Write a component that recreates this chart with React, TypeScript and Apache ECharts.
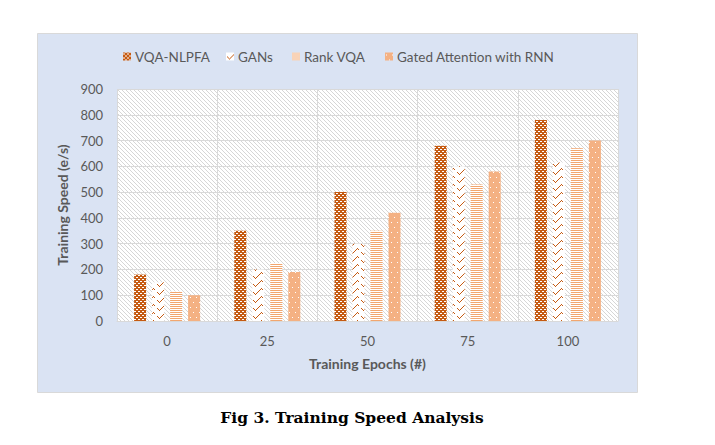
import React, { useEffect, useRef } from "react";
import * as echarts from "echarts";

const categories = ["0", "25", "50", "75", "100"];
const seriesNames = ["VQA-NLPFA", "GANs", "Rank VQA", "Gated Attention with RNN"];
const vqaNlpfa = [180, 350, 500, 680, 780];
const gans = [150, 200, 300, 600, 615];
const rankVqa = [115, 225, 350, 530, 670];
const gatedAttention = [100, 190, 420, 580, 700];
const seriesValues = [vqaNlpfa, gans, rankVqa, gatedAttention];
const yMin = 0;
const yMax = 900;
const yInterval = 100;
const xTitle = "Training Epochs (#)";
const yTitle = "Training Speed (e/s)";
const caption = "Fig 3. Training Speed Analysis";

const DARK = "#c55a11";
const LIGHT = "#f4b183";
const FONT = "Lato, 'Liberation Sans', sans-serif";
const TEXT = "#595959";

function tile(w: number, h: number, bg: string, pixels: [number, number, number, number, string][]) {
  const c = document.createElement("canvas");
  c.width = w;
  c.height = h;
  const ctx = c.getContext("2d")!;
  ctx.fillStyle = bg;
  ctx.fillRect(0, 0, w, h);
  pixels.forEach(([x, y, pw, ph, col]) => {
    ctx.fillStyle = col;
    ctx.fillRect(x, y, pw, ph);
  });
  return { image: c.toDataURL(), repeat: "repeat", imageWidth: w, imageHeight: h } as any;
}

function makePatterns() {
  const hatch = tile(4, 4, "#ffffff", [
    [0, 0, 1, 1, "#d6d6d6"],
    [1, 1, 1, 1, "#d6d6d6"],
    [2, 2, 1, 1, "#d6d6d6"],
    [3, 3, 1, 1, "#d6d6d6"],
  ]);
  const brick = tile(4, 4, DARK, [
    [0, 1, 2, 1, "#ffffff"],
    [2, 3, 2, 1, "#ffffff"],
  ]);
  const check = tile(12, 8, "#ffffff", [
    [1, 4, 1, 1, DARK],
    [2, 5, 1, 1, DARK],
    [3, 6, 1, 1, DARK],
    [4, 5, 1, 1, DARK],
    [5, 4, 1, 1, DARK],
    [6, 3, 1, 1, DARK],
    [7, 2, 1, 1, DARK],
    [8, 1, 1, 1, DARK],
    [9, 0, 1, 1, DARK],
    [10, 1, 1, 1, DARK],
  ]);
  const stripes = tile(2, 2, "#ffffff", [[0, 0, 2, 1, "#f2a66f"]]);
  const dots = tile(6, 10, LIGHT, [
    [1, 2, 1, 1, "#ffffff"],
    [4, 7, 1, 1, "#ffffff"],
  ]);
  return { hatch, fills: [brick, check, stripes, dots] };
}

const legendX = [123, 226, 292, 385];

export default function App() {
  const ref = useRef<HTMLDivElement>(null);
  useEffect(() => {
    if (!ref.current) return;
    const chart = echarts.init(ref.current, undefined, { renderer: "svg" });
    const { hatch, fills } = makePatterns();
    chart.setOption({
      animation: false,
      backgroundColor: "#ffffff",
      textStyle: { fontFamily: FONT },
      graphic: [
        {
          type: "rect",
          z: -10,
          silent: true,
          shape: { x: 37.5, y: 33.5, width: 600, height: 359 },
          style: { fill: "#dae3f3", stroke: "#d9d9d9", lineWidth: 1 },
        },
        {
          type: "text",
          x: 352,
          y: 417,
          style: {
            text: caption,
            textAlign: "center",
            textVerticalAlign: "middle",
            font: "bold 15.5px 'DejaVu Serif', serif",
            fill: "#000000",
          },
        },
      ],
      legend: seriesNames.map((n, i) => ({
        data: [n],
        left: legendX[i],
        top: 49.5,
        padding: 0,
        itemWidth: 8,
        itemHeight: 8,
        itemGap: 0,
        icon: "rect",
        textStyle: { color: TEXT, fontSize: 13.5, fontFamily: FONT, padding: [0, 0, 0, -1] },
      })),
      grid: {
        left: 117,
        top: 89,
        width: 501,
        height: 232,
        show: true,
        backgroundColor: hatch,
        borderWidth: 0,
      },
      xAxis: {
        type: "category",
        data: categories,
        name: xTitle,
        nameLocation: "middle",
        nameGap: 35,
        nameTextStyle: { color: TEXT, fontSize: 14, fontWeight: "bold", fontFamily: FONT },
        axisLine: { lineStyle: { color: "#d9d9d9" } },
        axisTick: { show: false },
        axisLabel: { color: TEXT, fontSize: 13, margin: 13, fontFamily: FONT },
        splitLine: { show: true, lineStyle: { color: "#d9d9d9", width: 1 } },
      },
      yAxis: {
        type: "value",
        min: yMin,
        max: yMax,
        interval: yInterval,
        name: yTitle,
        nameLocation: "middle",
        nameGap: 37,
        nameTextStyle: { color: TEXT, fontSize: 14, fontWeight: "bold", fontFamily: FONT },
        axisLine: { show: false },
        axisTick: { show: false },
        axisLabel: { color: TEXT, fontSize: 13, margin: 14, fontFamily: FONT },
        splitLine: { lineStyle: { color: "#d9d9d9", width: 1 } },
      },
      series: seriesNames.map((n, i) => ({
        name: n,
        type: "bar",
        data: seriesValues[i],
        barWidth: 12,
        barGap: "50%",
        itemStyle: { color: fills[i] },
      })),
    });
    return () => chart.dispose();
  }, []);
  return (
    <div
      ref={ref}
      style={{ position: "absolute", left: 0, top: 0, width: 715, height: 445 }}
    />
  );
}
